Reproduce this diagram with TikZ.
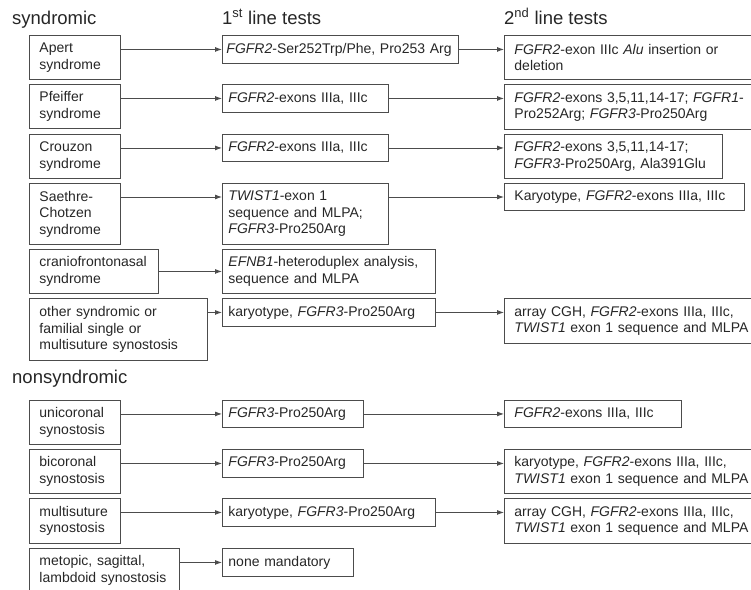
\documentclass[tikz,border=0pt]{standalone}
\usepackage{fontspec}
\setmainfont{Liberation Sans}
\usetikzlibrary{arrows.meta}

\begin{document}
\begin{tikzpicture}[x=1pt, y=-1pt,
    box/.style={draw=black!70, line width=0.9pt, anchor=north west, align=left, inner xsep=10pt, inner ysep=0pt, text=black!85, font=\fontsize{14}{16.5}\selectfont},
    first/.style={box, inner xsep=6pt},
    head/.style={anchor=base west, inner sep=0pt, text=black!85, font=\fontsize{18.5}{22}\selectfont},
    arr/.style={draw=black!70, line width=0.9pt, -{Latex[length=7pt,width=5pt]}}]
        \useasboundingbox (0,0) rectangle (751,589);
        % headings
        \node[head] (hsyn) at (12,24) {syndromic};
        \node[head] (hfirst) at (222,24) {1\textsuperscript{st} line tests};
        \node[head] (hsecond) at (504,24) {2\textsuperscript{nd} line tests};
        \node[head] (hnonsyn) at (12,383) {nonsyndromic};
        % syndromic
        \node[box, text width=71pt, minimum height=44pt] (apert) at (29,35) {Apert\\syndrome};
        \node[box, text width=71pt, minimum height=44pt] (pfeiffer) at (29,84) {Pfeiffer\\syndrome};
        \node[box, text width=71pt, minimum height=44pt] (crouzon) at (29,134) {Crouzon\\syndrome};
        \node[box, text width=71pt, minimum height=61pt] (saethre) at (29,183) {Saethre-\\Chotzen\\syndrome};
        \node[box, text width=109pt, minimum height=44pt] (cranio) at (29,249) {craniofrontonasal\\syndrome};
        \node[box, text width=158pt, minimum height=62pt] (other) at (29,298) {other syndromic or\\familial single or\\multisuture synostosis};
        \node[first, inner xsep=4pt, text width=228pt, minimum height=28pt] (apert1) at (222,35) {\mbox{\textit{FGFR2}-Ser252Trp/Phe, Pro253 Arg}};
        \node[first, text width=154pt, minimum height=28pt] (pfeiffer1) at (222,84) {\textit{FGFR2}-exons IIIa, IIIc};
        \node[first, text width=154pt, minimum height=27pt] (crouzon1) at (222,134) {\textit{FGFR2}-exons IIIa, IIIc};
        \node[first, text width=154pt, minimum height=61pt] (saethre1) at (222,183) {\textit{TWIST1}-exon 1\\sequence and MLPA;\\\textit{FGFR3}-Pro250Arg};
        \node[first, text width=201pt, minimum height=44pt] (cranio1) at (222,249) {\textit{EFNB1}-heteroduplex analysis,\\sequence and MLPA};
        \node[first, text width=201pt, minimum height=28pt] (other1) at (222,298) {karyotype, \textit{FGFR3}-Pro250Arg};
        \node[box, text width=250pt, minimum height=44pt] (apert2) at (504,35) {\textit{FGFR2}-exon IIIc \textit{Alu} insertion or\\deletion};
        \node[box, text width=250pt, minimum height=45pt] (pfeiffer2) at (504,84) {\textit{FGFR2}-exons 3,5,11,14-17; \textit{FGFR1}-\\Pro252Arg; \textit{FGFR3}-Pro250Arg};
        \node[box, text width=198pt, minimum height=44pt] (crouzon2) at (504,134) {\textit{FGFR2}-exons 3,5,11,14-17;\\\textit{FGFR3}-Pro250Arg, Ala391Glu};
        \node[box, text width=220pt, minimum height=27pt] (saethre2) at (504,183) {Karyotype, \textit{FGFR2}-exons IIIa, IIIc};
        \node[box, text width=250pt, minimum height=45pt] (other2) at (504,298) {array CGH, \textit{FGFR2}-exons IIIa, IIIc,\\\textit{TWIST1} exon 1 sequence and MLPA};
        % nonsyndromic
        \node[box, text width=71pt, minimum height=44pt] (uni) at (29,400) {unicoronal\\synostosis};
        \node[box, text width=71pt, minimum height=44pt] (bi) at (29,449) {bicoronal\\synostosis};
        \node[box, text width=71pt, minimum height=45pt] (multi) at (29,498) {multisuture\\synostosis};
        \node[box, text width=130pt, minimum height=44pt] (metopic) at (29,548) {metopic, sagittal,\\lambdoid synostosis};
        \node[first, text width=129pt, minimum height=27pt] (uni1) at (222,400) {\textit{FGFR3}-Pro250Arg};
        \node[first, text width=129pt, minimum height=28pt] (bi1) at (222,449) {\textit{FGFR3}-Pro250Arg};
        \node[first, text width=201pt, minimum height=28pt] (multi1) at (222,498) {karyotype, \textit{FGFR3}-Pro250Arg};
        \node[first, text width=119pt, minimum height=28pt] (metopic1) at (222,548) {none mandatory};
        \node[box, text width=157pt, minimum height=27pt] (uni2) at (504,400) {\textit{FGFR2}-exons IIIa, IIIc};
        \node[box, text width=250pt, minimum height=44pt] (bi2) at (504,449) {karyotype, \textit{FGFR2}-exons IIIa, IIIc,\\\textit{TWIST1} exon 1 sequence and MLPA};
        \node[box, text width=250pt, minimum height=45pt] (multi2) at (504,498) {array CGH, \textit{FGFR2}-exons IIIa, IIIc,\\\textit{TWIST1} exon 1 sequence and MLPA};
        % arrows
        \coordinate (saethreA) at ([yshift=-14pt]saethre1.north west);
        \draw[arr] (apert.east |- apert1.west) -- (apert1.west);
        \draw[arr] (pfeiffer.east |- pfeiffer1.west) -- (pfeiffer1.west);
        \draw[arr] (crouzon.east |- crouzon1.west) -- (crouzon1.west);
        \draw[arr] (saethre.east |- saethreA) -- (saethreA);
        \draw[arr] (cranio.east) -- (cranio1.west);
        \draw[arr] (other.east |- other1.west) -- (other1.west);
        \draw[arr] (apert1.east) -- (apert1.east -| apert2.west);
        \draw[arr] (pfeiffer1.east) -- (pfeiffer1.east -| pfeiffer2.west);
        \draw[arr] (crouzon1.east) -- (crouzon1.east -| crouzon2.west);
        \draw[arr] (saethreA -| saethre1.east) -- (saethreA -| saethre2.west);
        \draw[arr] (other1.east) -- (other1.east -| other2.west);
        \draw[arr] (uni.east |- uni1.west) -- (uni1.west);
        \draw[arr] (bi.east |- bi1.west) -- (bi1.west);
        \draw[arr] (multi.east |- multi1.west) -- (multi1.west);
        \draw[arr] (metopic.east |- metopic1.west) -- (metopic1.west);
        \draw[arr] (uni1.east) -- (uni1.east -| uni2.west);
        \draw[arr] (bi1.east) -- (bi1.east -| bi2.west);
        \draw[arr] (multi1.east) -- (multi1.east -| multi2.west);
    \end{tikzpicture}
\end{document}
